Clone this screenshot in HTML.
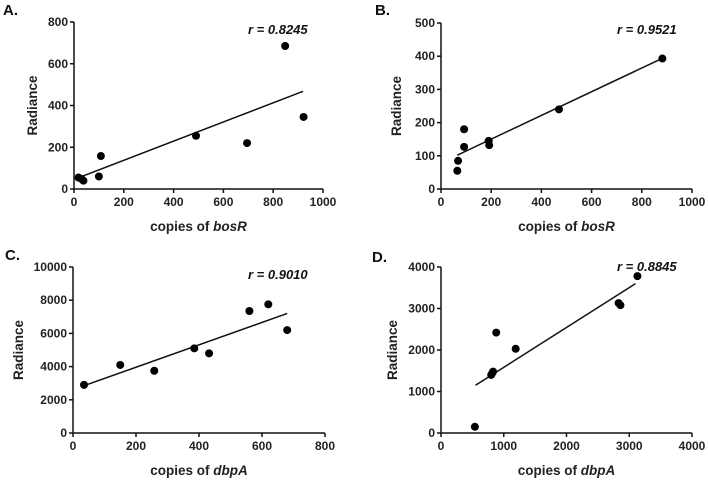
<!DOCTYPE html>
<html><head><meta charset="utf-8"><style>
body{margin:0;background:#fff}
svg{font-family:"Liberation Sans",Arial,sans-serif}
.tk{font-size:12px;font-weight:bold;fill:#222}
.tt{font-size:13.5px;font-weight:bold;fill:#222}
.pl{font-size:15px;font-weight:bold;fill:#111}
.r{font-size:13px;font-weight:bold;font-style:italic;fill:#111}
</style></head><body>
<svg id="fig" width="708" height="481"></svg>
<script>
// Panel A
const aX=[18,30,38,100,108,490,695,848,922];
const aY=[55,48,40,60,158,255,220,685,345];
const aFit=[[20,55],[920,468]];
// Panel B
const bX=[65,68,92,92,190,192,470,882];
const bY=[55,85,180,127,145,132,240,393];
const bFit=[[65,102],[880,393]];
// Panel C
const cX=[35,150,258,385,432,560,620,680];
const cY=[2900,4100,3750,5100,4800,7350,7750,6200];
const cFit=[[35,2850],[680,7200]];
// Panel D
const dX=[540,800,820,830,880,1190,2830,2860,3130];
const dY=[150,1400,1450,1480,2420,2030,3130,3080,3780];
const dFit=[[550,1150],[3100,3600]];

const aXT=[0,200,400,600,800,1000], aYT=[0,200,400,600,800];
const bXT=[0,200,400,600,800,1000], bYT=[0,100,200,300,400,500];
const cXT=[0,200,400,600,800], cYT=[0,2000,4000,6000,8000,10000];
const dXT=[0,1000,2000,3000,4000], dYT=[0,1000,2000,3000,4000];

const NS="http://www.w3.org/2000/svg";
const svg=document.getElementById('fig');
function mk(tag,attrs,parent){const e=document.createElementNS(NS,tag);for(const k in attrs)e.setAttribute(k,attrs[k]);(parent||svg).appendChild(e);return e;}

function panel(p){
  const g=mk('g',{});
  
  
  const sx=v=>p.x0+(v-p.xmin)/(p.xmax-p.xmin)*(p.x1-p.x0);
  const sy=v=>p.y0-(v-p.ymin)/(p.ymax-p.ymin)*(p.y0-p.y1);
  const la=mk('text',{x:p.lx,y:p.ly,class:'pl'},g);la.textContent=p.id+'.';
  
  
  const ya=mk('line',{x1:p.x0,y1:p.y0,x2:p.x0,y2:p.y1,stroke:'#111','stroke-width':1.5},g);
  
  
  const xa=mk('line',{x1:p.x0,y1:p.y0,x2:p.x1,y2:p.y0,stroke:'#111','stroke-width':1.5},g);
  
  
  p.xt.forEach(v=>{
    mk('line',{x1:sx(v),y1:p.y0,x2:sx(v),y2:p.y0+4,stroke:'#111','stroke-width':1.5},g);
    const t=mk('text',{x:sx(v),y:p.y0+17,class:'tk','text-anchor':'middle'},g);t.textContent=v;
    
    
  });
  p.yt.forEach(v=>{
    mk('line',{x1:p.x0-4,y1:sy(v),x2:p.x0,y2:sy(v),stroke:'#111','stroke-width':1.5},g);
    const t=mk('text',{x:p.x0-6,y:sy(v)+4,class:'tk','text-anchor':'end'},g);t.textContent=v;
    
    
  });
  const yt=mk('text',{x:0,y:0,class:'tt','text-anchor':'middle',transform:`translate(${p.ytx},${(p.y0+p.y1)/2}) rotate(-90)`},g);yt.textContent='Radiance';
  
  
  const xt=mk('text',{x:(p.x0+p.x1)/2,y:p.y0+42,class:'tt','text-anchor':'middle'},g);
  xt.innerHTML='copies of <tspan font-style="italic">'+p.gene+'</tspan>';
  
  
  const fl=mk('line',{x1:sx(p.fit[0][0]),y1:sy(p.fit[0][1]),x2:sx(p.fit[1][0]),y2:sy(p.fit[1][1]),stroke:'#111','stroke-width':1.5},g);
  
  
  p.xs.forEach((v,i)=>{
    const c=mk('circle',{cx:sx(v),cy:sy(p.ys[i]),r:4,fill:'#000'},g);
    
    
  });
  const r=mk('text',{x:p.rx,y:p.ry,class:'r'},g);r.textContent='r = '+p.r;
  
  
}
panel({id:'A',lx:3,ly:15,x0:74,x1:323,y0:189,y1:22,xmin:0,xmax:1000,ymin:0,ymax:800,xt:aXT,yt:aYT,xs:aX,ys:aY,fit:aFit,gene:'bosR',ytx:37,r:'0.8245',rx:248,ry:34});
panel({id:'B',lx:375,ly:15,x0:441,x1:692,y0:189,y1:23,xmin:0,xmax:1000,ymin:0,ymax:500,xt:bXT,yt:bYT,xs:bX,ys:bY,fit:bFit,gene:'bosR',ytx:401,r:'0.9521',rx:617,ry:34});
panel({id:'C',lx:5,ly:260,x0:73,x1:325,y0:433,y1:267,xmin:0,xmax:800,ymin:0,ymax:10000,xt:cXT,yt:cYT,xs:cX,ys:cY,fit:cFit,gene:'dbpA',ytx:23,r:'0.9010',rx:248,ry:279});
panel({id:'D',lx:372,ly:262,x0:441,x1:692,y0:433,y1:267,xmin:0,xmax:4000,ymin:0,ymax:4000,xt:dXT,yt:dYT,xs:dX,ys:dY,fit:dFit,gene:'dbpA',ytx:397,r:'0.8845',rx:617,ry:271});
</script>
</body></html>
